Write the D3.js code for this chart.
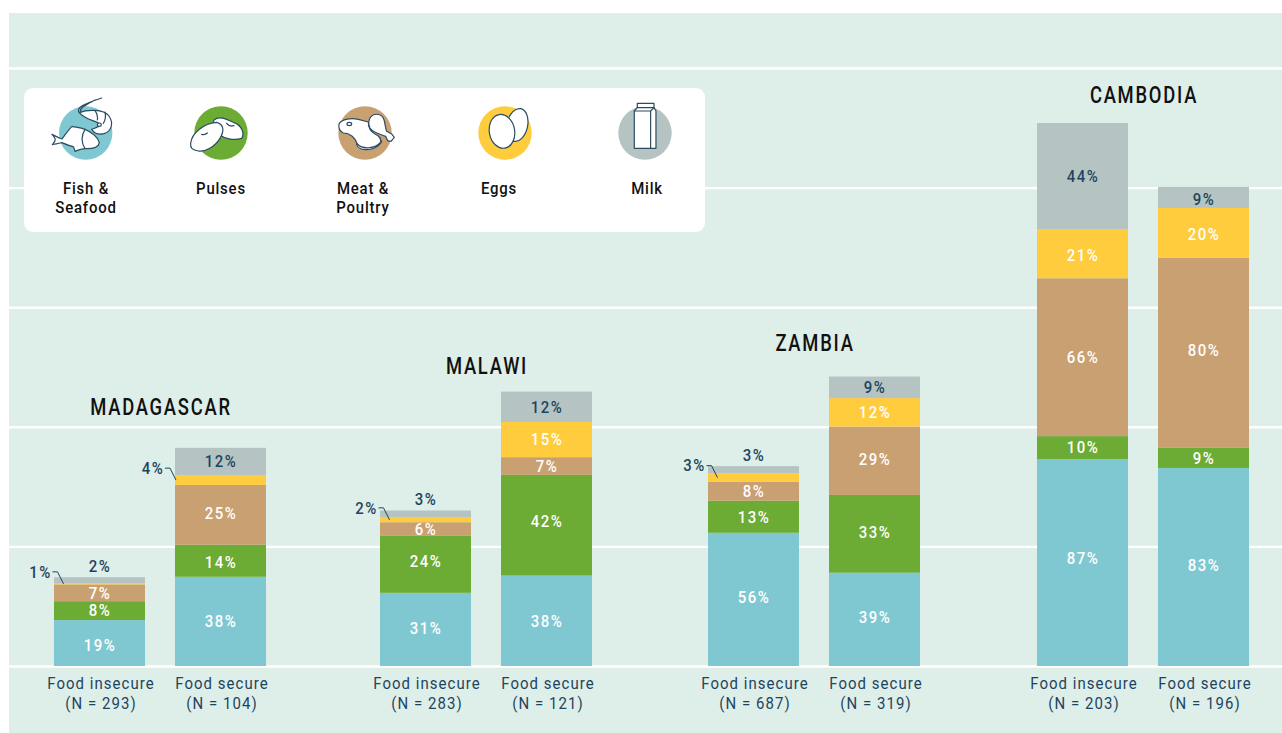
<!DOCTYPE html>
<html>
<head>
<meta charset="utf-8">
<script src="https://cdnjs.cloudflare.com/ajax/libs/d3/7.8.5/d3.min.js"></script>
<style>
  html, body { margin: 0; padding: 0; background: #fff; }
  svg { display: block; }
  /* no narrow DIN style font here, so Roboto gets squeezed a bit */
  text { font-family: "Roboto", sans-serif; transform-box: fill-box; transform-origin: center; transform: scaleX(0.88); }
  .grid .domain { display: none; }
  .grid line { stroke: #fff; stroke-width: 2.4; }
  .pct { font-size: 17px; font-weight: 500; letter-spacing: 1.7px; text-anchor: middle; dominant-baseline: central; }
  .cat { font-size: 17px; letter-spacing: 1.2px; fill: #1d4460; text-anchor: middle; }
  .country { font-size: 23px; font-weight: 500; letter-spacing: 2.2px; fill: #111; text-anchor: middle; transform: scaleX(0.8); }
  .legend-label { font-size: 17px; font-weight: 500; letter-spacing: 0.9px; fill: #111; text-anchor: middle; }
  .icon path, .icon ellipse { fill: #fff; stroke: #2b4d63; stroke-width: 3.6; stroke-linejoin: round; stroke-linecap: round; }
  .icon .open { fill: none; }
</style>
</head>
<body>
<div id="chart"></div>
<script>
// Data. Every list runs over bars in the same order.
var countries = ["MADAGASCAR", "MALAWI", "ZAMBIA", "CAMBODIA"];
var statuses = ["Food insecure", "Food secure"];
var sampleSizes = [293, 104, 283, 121, 687, 319, 203, 196];
var categories = ["Fish & Seafood", "Pulses", "Meat & Poultry", "Eggs", "Milk"];

// Bar segment heights as measured.
var fishValues = [19.2, 37.3, 30.6, 37.8, 55.7, 39.0, 86.5, 82.8];
var pulsesValues = [7.9, 13.4, 23.8, 42.1, 13.4, 32.5, 9.6, 8.4];
var meatValues = [7.0, 25.0, 5.7, 7.4, 7.9, 28.6, 66.0, 79.4];
var eggsValues = [0.5, 4.0, 2.0, 14.7, 3.5, 11.9, 20.5, 20.9];
var milkValues = [2.5, 11.5, 2.9, 12.7, 3.05, 9.0, 44.4, 8.8];

// Printed labels, which are rounded differently from the measured heights.
var fishLabels = [19, 38, 31, 38, 56, 39, 87, 83];
var pulsesLabels = [8, 14, 24, 42, 13, 33, 10, 9];
var meatLabels = [7, 25, 6, 7, 8, 29, 66, 80];
var eggsLabels = [1, 4, 2, 15, 3, 12, 21, 20];
var milkLabels = [2, 12, 3, 12, 3, 9, 44, 9];

var gridTicks = [0, 50, 100, 150, 200, 250];

var colors = ["#7fc8d2", "#6cab34", "#c9a072", "#ffcc3d", "#b5c4c2"];
var navy = "#1d4460";

// Build a table for d3.stack from the lists above.
var valueLists = [fishValues, pulsesValues, meatValues, eggsValues, milkValues];
var labelLists = [fishLabels, pulsesLabels, meatLabels, eggsLabels, milkLabels];
var table = sampleSizes.map(function(n, i) {
  var row = {
    country: countries[Math.floor(i / 2)],
    status: statuses[i % 2],
    n: n,
    index: i
  };
  categories.forEach(function(c, j) { row[c] = valueLists[j][i]; });
  return row;
});

// Labels in the original don't sit dead center in their segment, small pixel nudges.
var labelNudges = [
  [2, 0, -1, 0, -2, -2, -4, -2],
  [0, 1, -3, -4, 0, -2, 0, 0],
  [0, -2, 0, 0, 0, -2, 0, -3],
  [0, 0, 0, 0, 0, 0, 1, 1],
  [0, 0, 0, 0, 0, 0, 0, 2]
];

var svg = d3.select("#chart").append("svg")
  .attr("width", 1282)
  .attr("height", 733);

// Panel background.
svg.append("rect")
  .attr("x", 9).attr("y", 13)
  .attr("width", 1273).attr("height", 720)
  .attr("fill", "#deeee8");

// Scales.
var yScale = d3.scaleLinear().domain([0, 250]).range([666, 68]);
var groupScale = d3.scaleOrdinal().domain(countries).range([54, 380, 708, 1037]);
var barScale = d3.scaleBand().domain(statuses).range([0, 212]).paddingInner(0.248);
var colorScale = d3.scaleOrdinal().domain(categories).range(colors);

function barLeft(d) {
  return groupScale(d.country) + barScale(d.status);
}

function calloutTip(d) {
  var inset = d.data.status == "Food secure" ? 1 : 9.5;
  return { x: barLeft(d.data) + inset, y: yScale((d[0] + d[1]) / 2) };
}

function isCallout(key, d) {
  return key == "Eggs" && d[1] - d[0] < 5;
}

// White gridlines.
svg.append("g")
  .attr("class", "grid")
  .attr("transform", "translate(1282,0)")
  .call(d3.axisLeft(yScale).tickValues(gridTicks).tickSize(1273).tickFormat(""));

// Stacked bars.
var series = d3.stack().keys(categories)(table);

var layers = svg.selectAll(".layer")
  .data(series)
  .enter().append("g")
  .attr("class", "layer")
  .attr("fill", function(s) { return colorScale(s.key); });

layers.selectAll("rect")
  .data(function(s) { return s; })
  .enter().append("rect")
  .attr("x", function(d) { return barLeft(d.data); })
  .attr("y", function(d) { return yScale(d[1]); })
  .attr("width", barScale.bandwidth())
  .attr("height", function(d) { return yScale(d[0]) - yScale(d[1]); });

// Percent labels. Thin milk goes above the bar, thin eggs get a callout on the left.
layers.each(function(s, j) {
  d3.select(this).selectAll("text")
    .data(s)
    .enter().append("text")
    .attr("class", "pct")
    .attr("fill", function(d) {
      return (s.key == "Milk" || isCallout(s.key, d)) ? navy : "#fff";
    })
    .attr("x", function(d) {
      if (isCallout(s.key, d)) return calloutTip(d).x - 23;
      return barLeft(d.data) + barScale.bandwidth() / 2 + 0.5;
    })
    .attr("y", function(d) {
      if (s.key == "Milk" && d[1] - d[0] < 4) return yScale(d[1]) - 11;
      if (isCallout(s.key, d)) return calloutTip(d).y - 12;
      return yScale((d[0] + d[1]) / 2) + labelNudges[j][d.data.index];
    })
    .text(function(d) { return labelLists[j][d.data.index] + "%"; });
});

// Callout leaders for the thin egg segments.
svg.append("g").selectAll("path")
  .data(series[3].filter(function(d) { return isCallout("Eggs", d); }))
  .enter().append("path")
  .attr("fill", "none")
  .attr("stroke", navy)
  .attr("stroke-width", 1)
  .attr("d", function(d) {
    var t = calloutTip(d);
    return "M" + (t.x - 11) + "," + (t.y - 12) + "H" + (t.x - 6) + "L" + t.x + "," + t.y;
  });

// Category labels under each bar.
var cats = svg.append("g").selectAll("text")
  .data(table)
  .enter().append("text")
  .attr("class", "cat")
  .attr("x", function(d) { return barLeft(d) + barScale.bandwidth() / 2 + 1.5; });

cats.append("tspan")
  .attr("y", 689)
  .text(function(d) { return d.status; });

cats.append("tspan")
  .attr("x", function(d) { return barLeft(d) + barScale.bandwidth() / 2 + 1.5; })
  .attr("y", 709)
  .text(function(d) { return "(N = " + d.n + ")"; });

// Country titles.
var titleBaselines = [415, 374, 351, 103];
svg.append("g").selectAll("text")
  .data(countries)
  .enter().append("text")
  .attr("class", "country")
  .attr("x", function(d) { return groupScale(d) + 107; })
  .attr("y", function(d, i) { return titleBaselines[i]; })
  .text(function(d) { return d; });

// Legend card.
var legend = svg.append("g");
legend.append("rect")
  .attr("x", 24).attr("y", 88)
  .attr("width", 681).attr("height", 144)
  .attr("rx", 9)
  .attr("fill", "#fff");

var legendItems = [
  { cx: 85.7, tx: 86, lines: ["Fish &", "Seafood"] },
  { cx: 221, tx: 221, lines: ["Pulses"] },
  { cx: 365, tx: 363, lines: ["Meat &", "Poultry"] },
  { cx: 505, tx: 499, lines: ["Eggs"] },
  { cx: 645, tx: 647, lines: ["Milk"] }
];

legend.selectAll("circle")
  .data(legendItems)
  .enter().append("circle")
  .attr("cx", function(d) { return d.cx; })
  .attr("cy", 133)
  .attr("r", 26.7)
  .attr("fill", function(d, i) { return colors[i]; });

legendItems.forEach(function(item) {
  item.lines.forEach(function(line, i) {
    legend.append("text")
      .attr("class", "legend-label")
      .attr("x", item.tx)
      .attr("y", 194.5 + i * 19)
      .text(line);
  });
});

// Hand drawn icons, in a 3x coordinate system relative to each origin.
function icon(x, y) {
  return legend.append("g")
    .attr("class", "icon")
    .attr("transform", "translate(" + x + "," + y + ") scale(0.3333)");
}

var fish = icon(40, 92);
fish.append("path").attr("d", "M118,62 C140,53 190,50 207,72 C222,95 214,118 192,125 C176,129 162,123 155,112 C165,108 178,105 182,98 C170,85 135,85 118,62 Z");
fish.append("path").attr("class", "open").attr("d", "M118,62 C108,48 125,38 185,18 M122,58 C118,48 135,40 165,24 M165,56 C172,66 174,74 172,84 M195,60 C198,72 196,84 190,94");
fish.append("ellipse").attr("cx", 178).attr("cy", 98).attr("rx", 6).attr("ry", 5);
fish.append("path").attr("d", "M36,127 C46,132 56,138 66,141 C76,128 86,112 96,103 C108,106 120,106 135,112 C155,120 175,136 178,152 C176,164 160,171 135,170 C125,170 115,174 105,178 C104,172 102,168 100,164 C88,162 76,156 66,152 C56,154 46,156 37,158 C42,152 46,148 46,142 C44,136 40,132 36,127 Z");
fish.append("path").attr("class", "open").attr("d", "M135,112 C124,130 124,152 135,170");

var pulses = icon(20, 85);
pulses.append("path").attr("d", "M582,105 C600,90 625,105 640,112 C665,120 675,145 665,160 C640,168 612,160 600,150 C590,135 575,120 582,105 Z");
pulses.append("path").attr("d", "M512,175 C515,145 550,115 590,112 C610,118 615,135 600,160 C585,185 555,202 535,198 C518,195 510,190 512,175 Z");
pulses.append("path").attr("class", "open").attr("d", "M620,115 C625,122 635,124 642,122 M545,148 C552,150 558,148 562,144");

var meat = icon(325, 98);
meat.append("path").attr("d", "M95,140 C100,160 150,162 170,132 L165,120 L100,125 Z");
meat.append("path").attr("d", "M42,78 C50,62 80,60 100,64 L130,72 C130,85 135,100 150,108 C165,115 170,125 165,135 C150,152 112,155 97,138 C92,120 75,105 55,105 C45,100 40,90 42,78 Z");
meat.append("ellipse").attr("cx", 73).attr("cy", 78).attr("rx", 7).attr("ry", 5);
meat.append("path").attr("d", "M135,60 C145,45 165,45 175,60 C182,75 180,90 185,100 L200,108 L208,118 L198,130 L188,128 L182,115 C165,108 145,105 135,90 C130,80 130,70 135,60 Z");

var eggs = icon(360, 85);
eggs.append("ellipse").attr("cx", 472).attr("cy", 120).attr("rx", 31).attr("ry", 50).attr("transform", "rotate(12 472 120)");
eggs.append("ellipse").attr("cx", 426).attr("cy", 139).attr("rx", 38).attr("ry", 51).attr("transform", "rotate(-10 426 139)");

var milk = icon(360, 85);
milk.append("path").attr("d", "M832,55 H882 V68 H832 Z");
milk.append("path").attr("d", "M823,78 L832,68 H882 L888,78 V190 H823 Z");
milk.append("path").attr("class", "open").attr("d", "M823,78 H872 V190 M872,78 L882,68");
</script>
</body>
</html>
